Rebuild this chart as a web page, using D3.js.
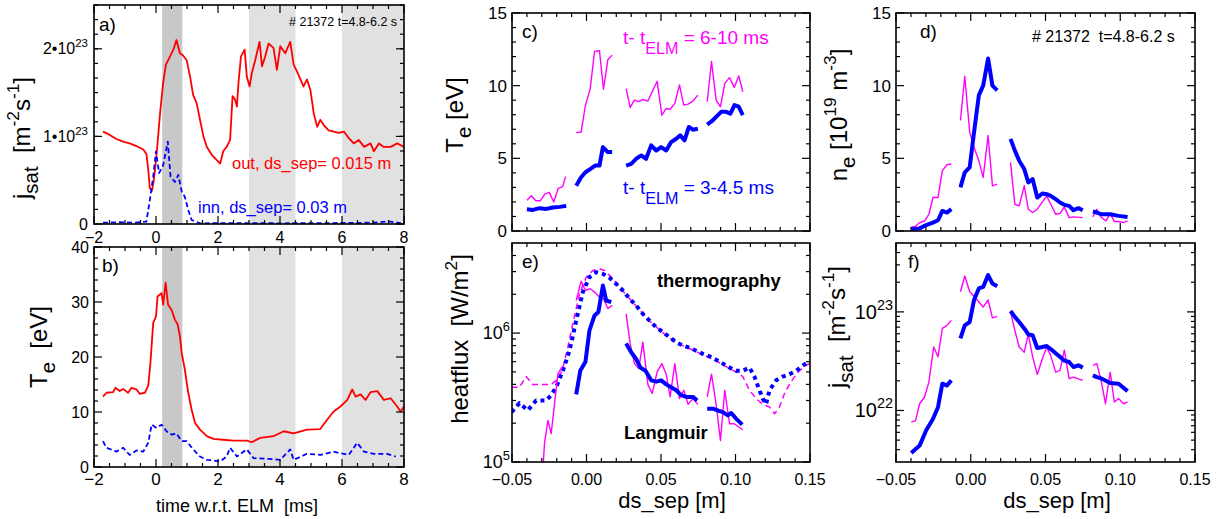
<!DOCTYPE html>
<html>
<head>
<meta charset="utf-8">
<script src="https://cdn.jsdelivr.net/npm/d3@7"></script>
<style>
body { margin: 0; background: #fff; }
svg text { font-family: "Liberation Sans", Arial, Helvetica, sans-serif; white-space: pre; }
</style>
</head>
<body>
<svg id="fig" width="1221" height="519"></svg>
<script>
// ---- data ----
// time traces, t in ms w.r.t. ELM
const elmWindow = [0.2, 0.85];
const interElm = [[3, 4.5], [6, 8]];

// jsat in units of 1e23 m^-2 s^-1
const jsatOut = [[-1.71,1.055],[-1.49,1.017],[-1.28,0.97],[-1.06,0.94],[-0.85,0.92],[-0.63,0.89],[-0.41,0.85],[-0.31,0.80],[-0.25,0.62],[-0.20,0.41],[-0.13,0.38],[-0.07,0.50],[-0.02,0.66],[0.04,0.88],[0.13,1.26],[0.23,1.61],[0.32,1.82],[0.45,1.91],[0.56,1.99],[0.66,2.10],[0.77,1.95],[0.86,1.93],[0.99,1.87],[1.10,1.68],[1.20,1.47],[1.31,1.38],[1.42,1.19],[1.53,1.00],[1.64,0.88],[1.80,0.79],[1.96,0.73],[2.07,0.69],[2.17,0.83],[2.28,0.88],[2.39,0.96],[2.47,1.46],[2.55,1.42],[2.61,1.34],[2.66,1.61],[2.74,1.91],[2.86,1.99],[2.93,1.68],[3.02,1.57],[3.09,1.72],[3.20,1.87],[3.34,2.08],[3.42,1.80],[3.52,1.91],[3.63,2.06],[3.79,2.01],[3.90,1.76],[4.01,2.03],[4.17,1.95],[4.33,2.08],[4.44,1.82],[4.55,1.74],[4.66,1.65],[4.76,1.57],[4.87,1.65],[4.98,1.53],[5.09,1.26],[5.20,1.11],[5.30,1.19],[5.41,1.13],[5.57,1.07],[5.73,1.055],[5.90,1.04],[6.06,1.055],[6.22,0.98],[6.38,0.92],[6.54,0.96],[6.71,0.88],[6.92,0.92],[7.03,0.83],[7.19,0.92],[7.35,0.88],[7.57,0.88],[7.78,0.92],[8.00,0.88]];
const jsatInn = [[-1.71,0.015],[-1.2,0.02],[-0.7,0.015],[-0.31,0.027],[-0.20,0.27],[-0.09,0.54],[0.0,0.83],[0.10,0.58],[0.23,0.67],[0.38,0.94],[0.47,0.54],[0.61,0.48],[0.72,0.56],[0.83,0.37],[0.93,0.31],[1.04,0.16],[1.15,0.046],[1.42,0.008],[2.5,0.01],[4,0.008],[5.5,0.01],[7,0.015],[7.5,0.03],[7.9,0.01]];

// Te in eV
const teOut = [[-1.71,12.8],[-1.60,13.5],[-1.39,13.6],[-1.30,14.4],[-1.17,13.8],[-1.06,14.2],[-0.90,13.5],[-0.79,14.4],[-0.63,14.1],[-0.52,13.3],[-0.36,13.5],[-0.25,14.8],[-0.18,18.9],[-0.09,26.2],[0.0,27.4],[0.05,31.0],[0.18,31.6],[0.23,29.5],[0.31,33.5],[0.39,29.5],[0.50,28.6],[0.61,26.8],[0.70,25.9],[0.77,23.8],[0.83,20.7],[0.93,17.7],[1.04,13.5],[1.15,10.4],[1.26,8.0],[1.42,6.8],[1.64,5.6],[1.85,5.1],[2.07,5.0],[2.50,4.8],[2.93,4.8],[3.09,4.5],[3.36,5.3],[3.79,5.6],[4.12,6.5],[4.44,6.1],[4.87,6.8],[5.30,6.9],[5.52,8.6],[5.73,10.1],[5.95,11.0],[6.17,12.2],[6.33,14.1],[6.44,12.8],[6.60,13.2],[6.76,12.2],[6.92,13.6],[7.14,13.8],[7.35,12.2],[7.57,12.5],[7.78,11.0],[7.89,10.1],[8.0,11.0]];
const teInn = [[-1.71,4.7],[-1.60,3.5],[-1.28,2.8],[-1.06,3.5],[-0.85,2.2],[-0.63,3.0],[-0.41,2.8],[-0.25,4.4],[-0.14,7.7],[0.02,7.1],[0.18,7.7],[0.34,6.5],[0.50,5.9],[0.66,6.1],[0.83,4.7],[0.99,4.7],[1.20,3.2],[1.42,1.9],[1.64,1.3],[1.85,1.2],[2.07,1.0],[2.28,1.9],[2.39,3.5],[2.61,1.9],[2.93,3.2],[3.15,1.6],[3.58,1.5],[4.01,1.3],[4.33,3.2],[4.44,1.3],[4.87,2.4],[5.30,2.2],[5.73,2.8],[5.95,2.5],[6.22,2.2],[6.49,4.4],[6.71,2.8],[7.03,2.4],[7.46,2.4],[7.73,1.9]];

// profiles vs ds_sep [m]; "late" = t-tELM 6-10 ms, "early" = 3-4.5 ms
const teProfLate = [
  [[-0.053,3.1],[-0.0495,2.9]],
  [[-0.040,2.12],[-0.037,2.42],[-0.034,2.08],[-0.031,2.08],[-0.028,2.54],[-0.025,2.66],[-0.022,2.0],[-0.019,2.93],[-0.016,3.05],[-0.014,3.74]],
  [[-0.0069,6.77],[-0.0036,6.81],[-0.0009,8.55],[0.0025,9.8],[0.0054,12.36],[0.0087,12.4],[0.0114,9.75],[0.0143,11.78],[0.0172,12.1]],
  [[0.0266,9.8],[0.0293,8.5],[0.0322,9.0],[0.0351,8.9],[0.0378,9.05],[0.0412,8.94],[0.0441,9.58],[0.0474,10.3],[0.0506,7.97],[0.0535,8.43],[0.0561,8.38],[0.0593,8.78],[0.0624,10.05],[0.0653,8.66],[0.0682,8.73],[0.0714,8.94],[0.0747,9.35]],
  [[0.0810,8.89],[0.0839,11.66],[0.0870,9.0],[0.0899,8.55],[0.0928,10.16],[0.0960,10.55],[0.0991,9.88],[0.1022,10.67],[0.1049,9.58]]
];
const teProfEarly = [
  [[-0.040,1.50],[-0.036,1.45],[-0.0315,1.57],[-0.027,1.52],[-0.0226,1.62],[-0.018,1.66],[-0.0136,1.73]],
  [[-0.0069,3.12],[-0.0036,3.70],[-0.0007,4.04],[0.0027,4.27],[0.0058,4.50],[0.0087,4.50],[0.0110,5.77],[0.0143,5.43],[0.0172,5.43]],
  [[0.0266,4.50],[0.0300,4.62],[0.0333,4.97],[0.0367,5.20],[0.0400,4.97],[0.0434,5.89],[0.0468,5.54],[0.0501,5.77],[0.0535,5.54],[0.0568,6.12],[0.0602,6.35],[0.0629,6.58],[0.0658,6.24],[0.0687,7.16],[0.0714,6.97],[0.0747,7.04]],
  [[0.0810,7.32],[0.0843,7.57],[0.0870,7.85],[0.0904,8.2],[0.0937,8.2],[0.0966,8.08],[0.0993,8.66],[0.1022,8.55],[0.1049,7.97]]
];

// ne in 1e19 m^-3
const neProfLate = [
  [[-0.0398,0.28],[-0.0369,0.32],[-0.0342,0.58],[-0.0309,0.69],[-0.028,1.15],[-0.0253,2.30],[-0.0219,2.30],[-0.019,4.15],[-0.0159,4.56],[-0.013,4.61]],
  [[-0.0069,7.6],[-0.004,10.65],[-0.0007,6.8],[0.0022,5.76],[0.0054,4.84],[0.0083,3.69],[0.0116,6.57],[0.0145,3.11],[0.0177,3.23]],
  [[0.0266,4.72],[0.0295,1.84],[0.0324,1.73],[0.0358,3.11],[0.0385,1.50],[0.0414,1.27],[0.0445,1.50],[0.0508,2.42],[0.0535,1.84],[0.0568,1.15],[0.0597,1.20],[0.0626,1.66],[0.0658,0.92],[0.0687,0.97],[0.0749,0.92]],
  [[0.0817,0.97],[0.0843,1.50],[0.0870,0.97],[0.0904,0.69],[0.0933,1.20],[0.0960,0.65],[0.0989,0.65],[0.1022,0.58],[0.1049,0.69]]
];
const neProfEarly = [
  [[-0.0398,0.12],[-0.0342,0.18],[-0.0298,0.41],[-0.0253,0.58],[-0.0219,0.74],[-0.019,1.38],[-0.0159,1.27],[-0.013,1.50]],
  [[-0.0069,3.0],[-0.004,4.03],[-0.0007,4.38],[0.0022,6.8],[0.0054,9.33],[0.0083,10.0],[0.0116,11.87],[0.0145,10.0],[0.0177,9.68]],
  [[0.0266,6.34],[0.0295,5.53],[0.0324,4.84],[0.0358,4.26],[0.0385,3.34],[0.0414,3.57],[0.0445,2.30],[0.0479,2.58],[0.0508,2.53],[0.0535,2.42],[0.0568,2.19],[0.0597,1.96],[0.0626,1.80],[0.0658,1.73],[0.0687,1.43],[0.0720,1.57],[0.0749,1.43]],
  [[0.0817,1.34],[0.0843,1.27],[0.0877,1.15],[0.0933,1.15],[0.0989,1.04],[0.1049,0.97]]
];

// heat flux in W/m^2
const qLangLate = [
  [[-0.040,4e4],[-0.0295,8e4],[-0.0282,1.39e5],[-0.0259,2.1e5],[-0.0237,1.66e5],[-0.0215,2.8e5],[-0.0192,4.8e5],[-0.0163,5.5e5]],
  [[-0.0069,1.79e6],[-0.0036,2.53e6],[-0.0007,2.14e6],[0.0025,2.21e6],[0.0054,2.08e6],[0.0087,1.90e6],[0.0114,1.85e6],[0.0143,1.55e6],[0.0172,1.64e6]],
  [[0.0266,1.41e6],[0.0293,8.3e5],[0.0322,5.8e5],[0.0351,5.3e5],[0.0378,8.5e5],[0.0412,4.0e5],[0.0441,3.4e5],[0.0474,5.0e5],[0.0506,5.8e5],[0.0535,4.8e5],[0.0561,3.2e5],[0.0593,5.8e5],[0.0624,3.1e5],[0.0653,3.6e5],[0.0682,2.8e5],[0.0714,3.1e5],[0.0747,2.8e5]],
  [[0.0810,3.2e5],[0.0839,4.8e5],[0.0870,2.8e5],[0.0899,1.47e5],[0.0928,3.6e5],[0.0960,1.98e5],[0.0991,1.98e5],[0.1022,1.87e5],[0.1049,1.78e5]]
];
const qLangEarly = [
  [[-0.0069,3.35e5],[-0.0042,5.1e5],[-0.0007,6.0e5],[0.002,1.05e6],[0.0054,1.37e6],[0.008,1.46e6],[0.011,2.34e6],[0.0132,1.79e6],[0.0166,1.74e6]],
  [[0.0266,8.3e5],[0.0300,7.1e5],[0.0333,6.3e5],[0.0362,5.4e5],[0.0396,5.1e5],[0.0434,4.3e5],[0.0468,4.2e5],[0.0501,4.3e5],[0.0535,4.0e5],[0.0568,3.8e5],[0.0602,3.6e5],[0.0635,3.3e5],[0.0669,3.2e5],[0.0714,3.2e5],[0.0743,3.0e5]],
  [[0.0810,2.59e5],[0.0848,2.59e5],[0.0881,2.51e5],[0.0915,2.44e5],[0.0949,2.30e5],[0.0971,2.40e5],[0.1004,2.17e5],[0.1045,1.95e5]]
];
const qThermoEarly = [[-0.0503,2.44e5],[-0.045,2.86e5],[-0.0394,2.52e5],[-0.0338,3.0e5],[-0.0271,3.0e5],[-0.0237,3.3e5],[-0.0204,3.8e5],[-0.0159,5.1e5],[-0.0114,7.3e5],[-0.0069,1.25e6],[-0.0025,2.08e6],[0.002,2.72e6],[0.0065,2.97e6],[0.011,2.88e6],[0.0154,2.69e6],[0.0199,2.41e6],[0.0244,2.14e6],[0.0289,1.85e6],[0.0333,1.64e6],[0.0378,1.41e6],[0.0423,1.25e6],[0.0468,1.11e6],[0.0512,1.02e6],[0.0557,9.3e5],[0.0602,8.5e5],[0.0647,8.0e5],[0.0691,7.7e5],[0.0736,7.3e5],[0.0781,6.9e5],[0.0826,6.6e5],[0.087,6.2e5],[0.0915,5.8e5],[0.096,5.4e5],[0.1004,5.1e5],[0.1049,5.1e5],[0.1094,5.4e5],[0.1127,4.6e5],[0.1161,3.6e5],[0.1183,3.1e5],[0.1205,2.8e5],[0.1228,3.6e5],[0.1273,4.3e5],[0.1317,4.6e5],[0.1362,4.8e5],[0.1407,5.1e5],[0.1452,5.6e5],[0.1496,6.1e5]];
const qThermoLate = [[-0.0503,3.8e5],[-0.045,3.8e5],[-0.0405,4.6e5],[-0.036,4.0e5],[-0.0293,4.0e5],[-0.0237,4.0e5],[-0.0204,4.3e5],[-0.0163,5.1e5],[-0.0125,7.8e5],[-0.0092,1.18e6],[-0.0047,2.02e6],[-0.0002,2.72e6],[0.0043,3.06e6],[0.0087,3.16e6],[0.0121,3.06e6],[0.0166,2.72e6],[0.0244,2.12e6],[0.0333,1.62e6],[0.0423,1.24e6],[0.0512,1.01e6],[0.0602,8.4e5],[0.0691,7.6e5],[0.0781,6.8e5],[0.087,6.1e5],[0.096,5.3e5],[0.1004,5.0e5],[0.1049,4.6e5],[0.1094,3.6e5],[0.1139,3.1e5],[0.1183,2.8e5],[0.1228,2.67e5],[0.1262,2.37e5],[0.1295,2.67e5],[0.1329,3.4e5],[0.1362,4.0e5],[0.1407,4.8e5],[0.1452,5.4e5],[0.1496,5.8e5]];

// jsat profiles in m^-2 s^-1
const jProfLate = [
  [[-0.053,7.5e21],[-0.0495,8.3e21]],
  [[-0.0398,7.6e21],[-0.0369,7.9e21],[-0.0342,1.17e22],[-0.0309,1.37e22],[-0.028,1.94e22],[-0.0248,4.4e22],[-0.0219,3.5e22],[-0.019,6.8e22],[-0.0159,7.3e22],[-0.013,8.2e22]],
  [[-0.0069,1.60e23],[-0.004,2.31e23],[-0.0007,1.60e23],[0.0022,1.44e23],[0.0054,1.26e23],[0.0083,1.12e23],[0.0116,1.32e23],[0.0145,8.7e22],[0.0177,9.0e22]],
  [[0.0266,1.0e23],[0.0295,6.5e22],[0.0324,4.4e22],[0.0358,3.9e22],[0.0385,6.0e22],[0.0414,3.5e22],[0.0445,2.32e22],[0.0479,3.35e22],[0.0508,4.4e22],[0.0535,3.6e22],[0.0568,2.45e22],[0.0597,2.55e22],[0.0626,4.1e22],[0.0658,2.10e22],[0.0687,2.18e22],[0.0749,2.02e22]],
  [[0.0817,2.87e22],[0.0843,2.99e22],[0.0872,2.02e22],[0.0901,1.17e22],[0.0933,2.45e22],[0.0960,1.22e22],[0.0989,1.32e22],[0.1022,1.17e22],[0.1049,1.22e22]]
];
const jProfEarly = [
  [[-0.0398,3.7e21],[-0.0342,4.4e21],[-0.0298,6.3e21],[-0.0253,8.2e21],[-0.0219,1.08e22],[-0.019,1.87e22],[-0.0159,1.79e22],[-0.013,2.02e22]],
  [[-0.0069,5.4e22],[-0.004,7.3e22],[-0.0007,7.9e22],[0.0022,1.32e23],[0.0054,1.73e23],[0.0083,1.79e23],[0.0116,2.36e23],[0.0145,1.94e23],[0.0177,1.82e23]],
  [[0.0266,1.02e23],[0.0295,8.9e22],[0.0324,7.9e22],[0.0358,6.8e22],[0.0385,5.9e22],[0.0414,5.8e22],[0.0445,4.3e22],[0.0479,4.4e22],[0.0508,4.5e22],[0.0535,4.2e22],[0.0568,3.8e22],[0.0597,3.5e22],[0.0626,3.2e22],[0.0658,3.1e22],[0.0687,2.76e22],[0.0720,2.87e22],[0.0749,2.72e22]],
  [[0.0817,2.27e22],[0.0843,2.18e22],[0.0877,2.10e22],[0.0933,1.90e22],[0.0989,1.87e22],[0.1049,1.57e22]]
];

// tick values
const timeTicks = [-2, 0, 2, 4, 6, 8];
const jsatTicks = [0, 1, 2];          // x 10^23
const teTicks = [0, 10, 20, 30, 40];
const dsTicks = [-0.05, 0, 0.05, 0.10, 0.15];
const profTicks = [0, 5, 10, 15];
const qTicks = [1e5, 1e6];
const jProfTicks = [1e22, 1e23];

// ---- drawing ----
const RED = "#ff0000", BLUE = "#0000ff", MAG = "#ff00ff";
const svg = d3.select("#fig");
const defs = svg.append("defs");

function panel(id, box, xDom, yDom, yLog) {
  const g = svg.append("g").attr("transform", `translate(${box.x},${box.y})`);
  const x = d3.scaleLinear().domain(xDom).range([0, box.w]);
  const y = (yLog ? d3.scaleLog() : d3.scaleLinear()).domain(yDom).range([box.h, 0]);
  defs.append("clipPath").attr("id", "clip-" + id)
    .append("rect").attr("width", box.w).attr("height", box.h);
  const plot = g.append("g").attr("clip-path", `url(#clip-${id})`);
  return {g, plot, x, y, w: box.w, h: box.h, box};
}

// frame + inward ticks on all four sides
function frame(P, xMaj, xMin, yMaj, yMin) {
  const g = P.g.append("g");
  const tick = (x1, y1, x2, y2) => g.append("line")
    .attr("x1", x1).attr("y1", y1).attr("x2", x2).attr("y2", y2)
    .attr("stroke", "#000").attr("stroke-width", 1.2);
  xMaj.forEach(v => { const px = P.x(v); tick(px, P.h, px, P.h - 8); tick(px, 0, px, 8); });
  xMin.forEach(v => { const px = P.x(v); tick(px, P.h, px, P.h - 4); tick(px, 0, px, 4); });
  yMaj.forEach(v => { const py = P.y(v); tick(0, py, 8, py); tick(P.w, py, P.w - 8, py); });
  yMin.forEach(v => { const py = P.y(v); tick(0, py, 4, py); tick(P.w, py, P.w - 4, py); });
  g.append("rect").attr("width", P.w).attr("height", P.h)
    .attr("fill", "none").attr("stroke", "#000").attr("stroke-width", 1.6);
}

// text with sub/superscript parts: ["plain", ["sub","sub"], ["sup","sup"]]
function rich(sel, parts, fs, subOff) {
  let cur = 0;
  parts.forEach(p => {
    const [str, kind] = typeof p === "string" ? [p, null] : p;
    const off = kind === "sub" ? (subOff || 0.32) * fs : kind === "sup" ? -0.45 * fs : 0;
    const size = kind === "sub" ? fs * 0.85 : kind === "sup" ? fs * 0.72 : fs;
    sel.append("tspan").attr("dy", (off - cur).toFixed(1)).attr("font-size", size).text(str);
    cur = off;
  });
  return sel;
}

function label(x, y, parts, fs, opts = {}) {
  const t = svg.append("text").attr("x", x).attr("y", y)
    .attr("font-size", fs)
    .attr("fill", opts.color || "#000")
    .attr("font-weight", opts.bold ? "bold" : null)
    .attr("text-anchor", opts.anchor || "start");
  return rich(t, parts, fs, opts.subOff);
}

function ylabel(cx, cy, parts, fs) {
  const t = svg.append("text")
    .attr("transform", `translate(${cx},${cy}) rotate(-90)`)
    .attr("text-anchor", "middle").attr("font-size", fs);
  return rich(t, parts, fs);
}

function xTickLabels(P, vals, fmt, yBase, fs) {
  vals.forEach(v => label(P.box.x + P.x(v), yBase, [fmt(v)], fs, {anchor: "middle"}));
}
function yTickLabels(P, vals, partsFn, dx, fs) {
  vals.forEach(v => label(P.box.x - dx, P.box.y + P.y(v) + fs * 0.35, partsFn(v), fs, {anchor: "end"}));
}

function drawLine(P, data, color, width, dash) {
  const line = d3.line().x(d => P.x(d[0])).y(d => P.y(d[1]));
  P.plot.append("path").datum(data).attr("d", line)
    .attr("fill", "none").attr("stroke", color).attr("stroke-width", width)
    .attr("stroke-dasharray", dash || null)
    .attr("stroke-linejoin", "round");
}
function drawSegments(P, segs, color, width, dash) {
  segs.forEach(s => drawLine(P, s, color, width, dash));
}

function shade(P) {
  P.plot.append("rect").attr("x", P.x(elmWindow[0])).attr("width", P.x(elmWindow[1]) - P.x(elmWindow[0]))
    .attr("y", 0).attr("height", P.h).attr("fill", "#c8c8c8");
  interElm.forEach(r => P.plot.append("rect").attr("x", P.x(r[0])).attr("width", P.x(r[1]) - P.x(r[0]))
    .attr("y", 0).attr("height", P.h).attr("fill", "#e1e1e1"));
}

const logMinor = (lo, hi) => {
  const out = [];
  for (let e = Math.floor(Math.log10(lo)); e <= Math.ceil(Math.log10(hi)); e++)
    for (let m = 2; m <= 9; m++) { const v = m * Math.pow(10, e); if (v > lo && v < hi) out.push(v); }
  return out;
};

// ---- panel a: jsat vs time ----
const A = panel("a", {x: 94, y: 5, w: 310, h: 219}, [-2, 8], [0, 2.5]);
shade(A);
drawLine(A, jsatOut, RED, 1.8);
drawLine(A, jsatInn, BLUE, 1.8, "5,3");
frame(A, timeTicks, d3.range(-1.5, 8, 0.5).filter(v => v % 2 !== 0), jsatTicks, d3.range(1/6, 2.5, 1/6));
xTickLabels(A, timeTicks, d3.format("d"), 243, 16);
yTickLabels(A, jsatTicks, v => v === 0 ? ["0"] : [v + "\u202210", ["23", "sup"]], 6, 16);
label(99, 31, ["a)"], 19);
label(289, 26, ["# 21372 t=4.8-6.2 s"], 12.5);
label(232, 169, ["out, ds_sep= 0.015 m"], 16.5, {color: RED});
label(198, 213, ["inn, ds_sep= 0.03 m"], 16.5, {color: BLUE});
ylabel(30, 138, ["j", ["sat", "sub"], "  [m", ["-2", "sup"], "s", ["-1", "sup"], "]"], 24);

// ---- panel b: Te vs time ----
const B = panel("b", {x: 94, y: 247, w: 310, h: 220}, [-2, 8], [0, 40]);
shade(B);
drawLine(B, teOut, RED, 1.8);
drawLine(B, teInn, BLUE, 1.8, "5,3");
frame(B, timeTicks, d3.range(-1.5, 8, 0.5).filter(v => v % 2 !== 0), teTicks, d3.range(2, 40, 2).filter(v => v % 10 !== 0));
xTickLabels(B, timeTicks, d3.format("d"), 485, 17);
yTickLabels(B, teTicks, v => [String(v)], 5, 16);
label(102, 272, ["b)"], 19);
ylabel(47, 347, ["T", ["e", "sub"], "  [eV]"], 24);
label(237, 512, ["time w.r.t. ELM  [ms]"], 18, {anchor: "middle"});

const dsMinor = d3.range(-0.04, 0.15, 0.01).filter(v => Math.abs(Math.round(v * 20) - v * 20) > 1e-6);

// ---- panel c: Te profiles ----
const C = panel("c", {x: 512, y: 13, w: 298, h: 218}, [-0.05, 0.15], [0, 15]);
drawSegments(C, teProfLate, MAG, 1.4);
drawSegments(C, teProfEarly, BLUE, 4);
frame(C, dsTicks, dsMinor, profTicks, d3.range(1, 15, 1).filter(v => v % 5 !== 0));
yTickLabels(C, profTicks, v => [String(v)], 5, 17);
label(522, 38, ["c)"], 19);
label(623, 44, ["t- t", ["ELM", "sub"], " = 6-10 ms"], 19, {color: MAG, subOff: 0.5});
label(623, 194, ["t- t", ["ELM", "sub"], " = 3-4.5 ms"], 19, {color: BLUE, subOff: 0.5});
ylabel(463, 115, ["T", ["e", "sub"], " [eV]"], 24);

// ---- panel d: ne profiles ----
const D = panel("d", {x: 896, y: 13, w: 299, h: 218}, [-0.05, 0.15], [0, 15]);
drawSegments(D, neProfLate, MAG, 1.4);
drawSegments(D, neProfEarly, BLUE, 4);
frame(D, dsTicks, dsMinor, profTicks, d3.range(1, 15, 1).filter(v => v % 5 !== 0));
yTickLabels(D, profTicks, v => [String(v)], 5, 17);
label(920, 38, ["d)"], 19);
label(1032, 42, ["# 21372  t=4.8-6.2 s"], 16);
ylabel(847, 115, ["n", ["e", "sub"], " [10", ["19", "sup"], " m", ["-3", "sup"], "]"], 24);

// ---- panel e: heat flux profiles ----
const E = panel("e", {x: 512, y: 243, w: 298, h: 219}, [-0.05, 0.15], [1e5, 5e6], true);
drawLine(E, qThermoLate, MAG, 1.5, "6,4");
drawLine(E, qThermoEarly, BLUE, 4, "4,4");
drawSegments(E, qLangLate, MAG, 1.4);
drawSegments(E, qLangEarly, BLUE, 4);
frame(E, dsTicks, dsMinor, qTicks, logMinor(1e5, 5e6));
xTickLabels(E, dsTicks, d3.format(".2f"), 485, 16);
yTickLabels(E, qTicks, v => ["10", [String(Math.round(Math.log10(v))), "sup"]], 2, 18);
label(522, 268, ["e)"], 19);
label(657, 287, ["thermography"], 18.4, {bold: true});
label(624, 439, ["Langmuir"], 18.4, {bold: true});
ylabel(468, 339, ["heatflux  [W/m", ["2", "sup"], "]"], 24);
label(672, 508, ["ds_sep [m]"], 22, {anchor: "middle"});

// ---- panel f: jsat profiles ----
const F = panel("f", {x: 896, y: 243, w: 299, h: 219}, [-0.05, 0.15], [3e21, 5e23], true);
drawSegments(F, jProfLate, MAG, 1.4);
drawSegments(F, jProfEarly, BLUE, 4);
frame(F, dsTicks, dsMinor, jProfTicks, logMinor(3e21, 5e23));
xTickLabels(F, dsTicks, d3.format(".2f"), 485, 16);
yTickLabels(F, jProfTicks, v => ["10", [String(Math.round(Math.log10(v))), "sup"]], 3, 20);
label(908, 268, ["f)"], 19);
ylabel(845, 327, ["j", ["sat", "sub"], "  [m", ["-2", "sup"], "s", ["-1", "sup"], "]"], 24);
label(1057, 508, ["ds_sep [m]"], 22, {anchor: "middle"});
</script>
</body>
</html>
